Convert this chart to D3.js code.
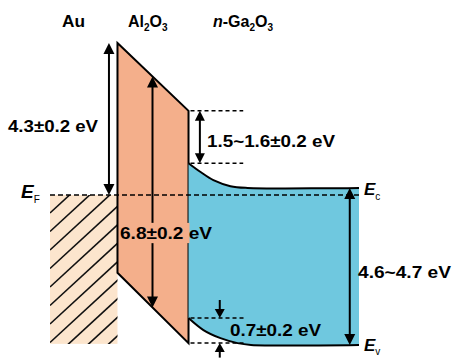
<!DOCTYPE html>
<html>
<head>
<meta charset="utf-8">
<script src="https://cdn.jsdelivr.net/npm/d3@7"></script>
<style>
body { margin: 0; background: #fff; }
text { font-family: "Liberation Sans", Arial, sans-serif; font-weight: bold; }
</style>
</head>
<body>
<svg id="chart"></svg>
<script>
var width = 452, height = 358;

// energies in eV relative to E_F (schematic band diagram)
var al2o3CB = [4.3, 2.38];     // Al2O3 conduction band: Au side, Ga2O3 side
var al2o3VB = [-2.2, -4.19];   // Al2O3 valence band: Au side, Ga2O3 side
var ecBendX = [0, 1.7, 3.5, 5.9, 8.3, 24];   // depth into Ga2O3 (a.u.)
var ecBend = [0.9, 0.65, 0.42, 0.25, 0.2, 0.2];
var evBendX = [0, 2.1, 4.5, 6.9, 8.8, 24];
var evBend = [-3.48, -3.82, -4.05, -4.19, -4.24, -4.24];
var layerEdges = [-19.5, -10, 0, 24];  // Au | Al2O3 | Ga2O3 (a.u.)
var barrierLabels = ["4.3±0.2 eV", "6.8±0.2 eV", "1.5~1.6±0.2 eV", "0.7±0.2 eV", "4.6~4.7 eV"];

var svg = d3.select("#chart").attr("width", width).attr("height", height);

var x = d3.scaleLinear().domain([-19.5, 24]).range([50, 359]);
var y = d3.scaleLinear().domain([0, 4.3]).range([195, 43]);

var orange = "#F4AF8B", blue = "#6FC8DF", peach = "#FCE5CD";

// Au (hatched metal)
var clip = svg.append("clipPath").attr("id", "auclip");
clip.append("rect")
    .attr("x", x(layerEdges[0])).attr("y", y(0))
    .attr("width", x(layerEdges[1]) - x(layerEdges[0]))
    .attr("height", y(evBend[evBend.length - 1]) - y(0) - 1);
svg.append("rect")
    .attr("x", x(layerEdges[0])).attr("y", y(0))
    .attr("width", x(layerEdges[1]) - x(layerEdges[0]))
    .attr("height", y(evBend[evBend.length - 1]) - y(0) - 1)
    .attr("fill", peach);
var hatch = svg.append("g").attr("clip-path", "url(#auclip)");
d3.range(0, 14).forEach(function(k) {
    var y0 = y(0) + 18 + k * 18.5;
    hatch.append("line")
        .attr("x1", x(layerEdges[0])).attr("y1", y0)
        .attr("x2", x(layerEdges[0]) + 160).attr("y2", y0 - 160 * 0.92)
        .attr("stroke", "#111").attr("stroke-width", 1.6);
});

// Al2O3 trapezoid
var al = [[layerEdges[1], al2o3CB[0]], [layerEdges[2], al2o3CB[1]],
          [layerEdges[2], al2o3VB[1]], [layerEdges[1], al2o3VB[0]]];
svg.append("path")
    .attr("d", "M" + al.map(function(p) { return x(p[0]) + "," + y(p[1]); }).join("L") + "Z")
    .attr("fill", orange).attr("stroke", "#000").attr("stroke-width", 2)
    .attr("stroke-linejoin", "miter");

// Ga2O3 bands
var line = d3.line().x(function(d) { return x(d[0]); }).y(function(d) { return y(d[1]); })
    .curve(d3.curveCatmullRom.alpha(0.5));
var topPts = ecBendX.map(function(v, i) { return [v, ecBend[i]]; });
var botPts = evBendX.map(function(v, i) { return [v, evBend[i]]; });
svg.append("path")
    .attr("d", line(topPts) + line(botPts.slice().reverse()).replace("M", "L") + "Z")
    .attr("fill", blue);
[topPts, botPts].forEach(function(pts) {
    svg.append("path").attr("d", line(pts))
        .attr("fill", "none").attr("stroke", "#000").attr("stroke-width", 2);
});

// E_F
svg.append("line")
    .attr("x1", x(layerEdges[0])).attr("x2", x(layerEdges[3]))
    .attr("y1", y(0)).attr("y2", y(0))
    .attr("stroke", "#000").attr("stroke-width", 1.5).attr("stroke-dasharray", "5,3");

// reference dashes for band offsets
[[al2o3CB[1], 7.7], [ecBend[0], 7.7], [evBend[0], 8.0], [al2o3VB[1], 8.0]].forEach(function(d) {
    svg.append("line")
        .attr("x1", x(0) + 2).attr("x2", x(d[1]))
        .attr("y1", y(d[0])).attr("y2", y(d[0]))
        .attr("stroke", "#000").attr("stroke-width", 1.5).attr("stroke-dasharray", "4,3");
});

// arrows
function head(xp, yp, dir, w, l) {
    return "M" + xp + "," + yp + "L" + (xp - w) + "," + (yp - dir * l) + "L" + (xp + w) + "," + (yp - dir * l) + "Z";
}
function arrow(xv, e1, e2, heads, w, l) {
    var xp = x(xv), y1 = y(e1), y2 = y(e2);
    var dir = y2 > y1 ? 1 : -1;
    var a = heads[0] ? y1 + dir * (l - 1) : y1;
    var b = heads[1] ? y2 - dir * (l - 1) : y2;
    svg.append("line").attr("x1", xp).attr("x2", xp).attr("y1", a).attr("y2", b)
        .attr("stroke", "#000").attr("stroke-width", 2);
    if (heads[0]) svg.append("path").attr("d", head(xp, y1, -dir, w, l)).attr("fill", "#000");
    if (heads[1]) svg.append("path").attr("d", head(xp, y2, dir, w, l)).attr("fill", "#000");
}
function cbAt(v) { return al2o3CB[0] + (v - layerEdges[1]) / (layerEdges[2] - layerEdges[1]) * (al2o3CB[1] - al2o3CB[0]); }
function vbAt(v) { return al2o3VB[0] + (v - layerEdges[1]) / (layerEdges[2] - layerEdges[1]) * (al2o3VB[1] - al2o3VB[0]); }

arrow(-11.2, 0, al2o3CB[0], [true, true], 5.5, 11);
arrow(-5.07, cbAt(-5.07), -0.79, [true, false], 5.5, 11);
arrow(-5.07, -1.36, vbAt(-5.07), [false, true], 5.5, 11);
arrow(1.6, al2o3CB[1], ecBend[0], [true, true], 5, 10);
arrow(4.4, -2.97, evBend[0], [false, true], 5, 9);
arrow(4.4, -4.6, al2o3VB[1], [false, true], 5, 9);
arrow(22.7, ecBend[ecBend.length - 1], evBend[evBend.length - 1], [true, true], 5.5, 11);

// background behind 6.8 eV label
svg.append("rect").attr("x", 119).attr("y", y(-0.79)).attr("width", x(0) + 1 - 119)
    .attr("height", y(-1.36) - y(-0.79)).attr("fill", orange);

// value labels
var labelPos = [[8, 132, 90], [120, 239, 92], [207, 147, 128], [230, 336, 91], [358, 278, 93]];
barrierLabels.forEach(function(t, i) {
    svg.append("text").attr("x", labelPos[i][0]).attr("y", labelPos[i][1])
        .attr("font-size", 16).attr("textLength", labelPos[i][2])
        .attr("lengthAdjust", "spacingAndGlyphs").text(t);
});

// layer titles
svg.append("text").attr("x", 62).attr("y", 27).attr("font-size", 16)
    .attr("textLength", 23).attr("lengthAdjust", "spacingAndGlyphs").text("Au");
function formula(sel, parts) {
    parts.forEach(function(p) {
        var ts = sel.append("tspan").text(p[0]);
        if (p[1] === "sub") ts.attr("font-size", 10).attr("dy", 4);
        else if (p[1] === "up") ts.attr("dy", -4);
        if (p[2]) ts.attr("font-style", "italic");
    });
}
var t1 = svg.append("text").attr("x", 128).attr("y", 27).attr("font-size", 16);
formula(t1, [["Al"], ["2", "sub"], ["O", "up"], ["3", "sub"]]);
var t2 = svg.append("text").attr("x", 213).attr("y", 27).attr("font-size", 16);
formula(t2, [["n", null, true], ["-Ga"], ["2", "sub"], ["O", "up"], ["3", "sub"]]);

// E_F, E_c, E_v
function elabel(xp, yp, sub, fs, dy) {
    var t = svg.append("text").attr("x", xp).attr("y", yp);
    t.append("tspan").attr("font-size", fs).attr("font-style", "italic").text("E");
    t.append("tspan").attr("font-size", 10).attr("font-weight", "normal").attr("dy", dy).text(sub);
}
elabel(21, 198, "F", 19, 5);
elabel(364, 195, "c", 17, 5);
elabel(364, 351, "v", 17, 4);
</script>
</body>
</html>
